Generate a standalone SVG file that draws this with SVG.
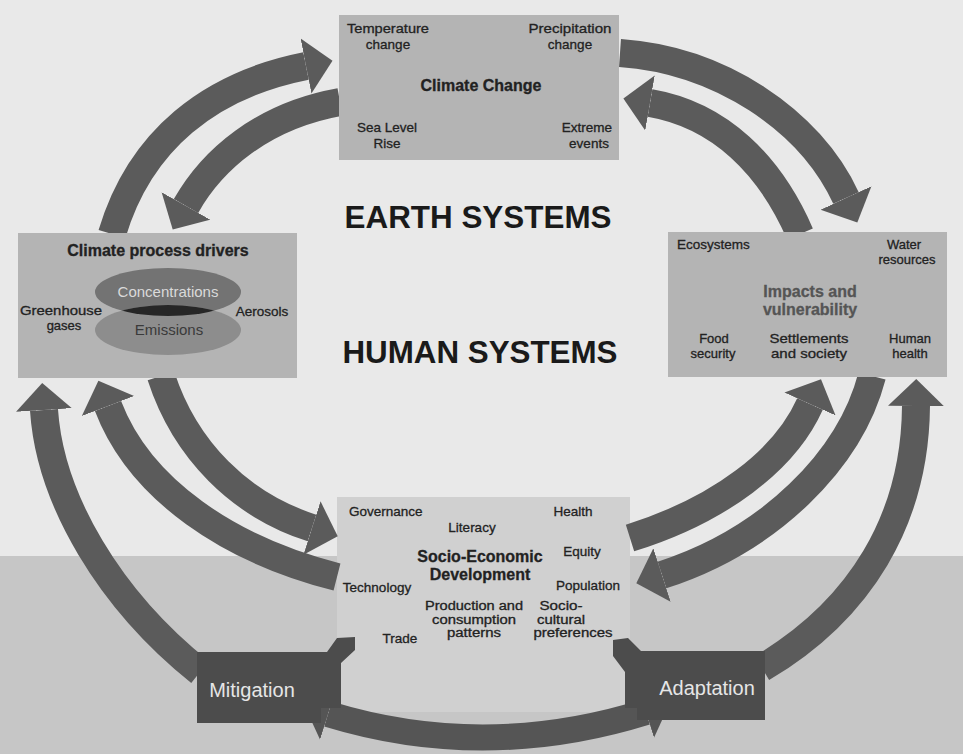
<svg xmlns="http://www.w3.org/2000/svg" width="963" height="754" viewBox="0 0 963 754">
<defs>
<style>
.box{fill:#b4b4b4}
.sbox{fill:#d0d0d0}
.dbox{fill:#4c4c4c}
.arr{fill:none;stroke:#5b5b5b;stroke-width:28}
.arrb{fill:none;stroke:#555;stroke-width:26}
.t{font-family:"Liberation Sans",Arial,sans-serif;font-size:13.5px;fill:#222;stroke:#222;stroke-width:0.3;text-anchor:middle}
.tl{text-anchor:start}
.s{font-size:12px}
.m{font-size:13px}
.b{font-weight:bold;font-size:16px}
.big{font-family:"Liberation Sans",Arial,sans-serif;font-weight:bold;font-size:31px;fill:#1a1a1a;text-anchor:middle}
.w{fill:#e6e6e6;stroke:none;font-size:20px}
</style>
<marker id="ah" markerUnits="userSpaceOnUse" markerWidth="40" markerHeight="60" refX="0" refY="28" orient="auto">
<path d="M0,0 L27,28 L0,56 Z" fill="#5b5b5b"/>
</marker>
<marker id="ahb" markerUnits="userSpaceOnUse" markerWidth="40" markerHeight="60" refX="0" refY="27" orient="auto-start-reverse">
<path d="M0,0 L24,27 L0,54 Z" fill="#555"/>
</marker>
<clipPath id="conc"><ellipse cx="168" cy="292" rx="73" ry="24"/></clipPath>
</defs>

<rect x="0" y="0" width="963" height="754" fill="#e9e9e9"/>
<rect x="0" y="556" width="963" height="198" fill="#c6c6c6"/>

<text class="big" x="478" y="228" textLength="267" lengthAdjust="spacingAndGlyphs">EARTH SYSTEMS</text>
<text class="big" x="480" y="363" textLength="275" lengthAdjust="spacingAndGlyphs">HUMAN SYSTEMS</text>

<g id="socio-economic">
<rect class="sbox" x="337" y="497" width="293" height="215"/>
<text class="t tl" x="349" y="516">Governance</text>
<text class="t" x="472" y="532">Literacy</text>
<text class="t" x="573" y="516">Health</text>
<text class="t b" x="480" y="562">Socio-Economic</text>
<text class="t b" x="480" y="580">Development</text>
<text class="t" x="582" y="556">Equity</text>
<text class="t" x="377" y="592">Technology</text>
<text class="t" x="588" y="590">Population</text>
<text class="t s" x="474" y="610" textLength="98" lengthAdjust="spacingAndGlyphs">Production and</text>
<text class="t s" x="474" y="623.5" textLength="84" lengthAdjust="spacingAndGlyphs">consumption</text>
<text class="t s" x="474" y="637" textLength="54" lengthAdjust="spacingAndGlyphs">patterns</text>
<text class="t s" x="561" y="610" textLength="43" lengthAdjust="spacingAndGlyphs">Socio-</text>
<text class="t s" x="561" y="623.5" textLength="48" lengthAdjust="spacingAndGlyphs">cultural</text>
<text class="t s" x="573" y="637" textLength="79" lengthAdjust="spacingAndGlyphs">preferences</text>
<text class="t" x="400" y="643">Trade</text>
</g>

<g id="connectors">
<path class="arr" marker-end="url(#ah)" d="M112,234 C140,140 210,85 306,66"/>
<path class="arr" marker-end="url(#ah)" d="M340,102 C262,116 212,160 186,206"/>
<path class="arr" marker-end="url(#ah)" d="M620,53 C720,60 810,120 846,198"/>
<path class="arr" marker-end="url(#ah)" d="M800,234 C770,165 720,115 650,103"/>
<path class="arr" marker-end="url(#ah)" d="M200,672 C110,600 50,500 44,410"/>
<path class="arr" marker-end="url(#ah)" d="M337,577 C230,550 140,490 108,406"/>
<path class="arr" marker-end="url(#ah)" d="M161,376 C185,450 240,505 312,528"/>
<path class="arr" marker-end="url(#ah)" d="M630,538 C720,510 785,460 810,404"/>
<path class="arr" marker-end="url(#ah)" d="M872,376 C850,460 770,540 662,575"/>
<path class="arr" marker-end="url(#ah)" d="M762,668 C860,610 915,520 916,406"/>
<path class="arrb" marker-start="url(#ahb)" marker-end="url(#ahb)" d="M328,714 Q485,762 646,712"/>
<polygon fill="#4c4c4c" points="318,652 327,652 337,638 355,637 355,650 341,663 341,708 318,708"/>
<polygon fill="#4c4c4c" points="613,640 628,638 641,651 641,708 625,708 625,672 613,656"/>
</g>

<g id="climate-change">
<rect class="box" x="339" y="15" width="280" height="145"/>
<text class="t" x="388" y="33" textLength="82" lengthAdjust="spacingAndGlyphs">Temperature</text>
<text class="t" x="388" y="49">change</text>
<text class="t" x="570" y="33" textLength="83" lengthAdjust="spacingAndGlyphs">Precipitation</text>
<text class="t" x="570" y="49">change</text>
<text class="t b" x="481" y="91">Climate Change</text>
<text class="t" x="387" y="132">Sea Level</text>
<text class="t" x="387" y="148">Rise</text>
<text class="t" x="587" y="132">Extreme</text>
<text class="t" x="589" y="148">events</text>
</g>

<g id="climate-drivers">
<rect class="box" x="18" y="233" width="279" height="145"/>
<text class="t b" x="158" y="256">Climate process drivers</text>
<ellipse cx="168" cy="292" rx="73" ry="24" fill="#737373"/>
<ellipse cx="168" cy="330" rx="73" ry="25" fill="#8d8d8d"/>
<ellipse cx="168" cy="330" rx="73" ry="25" fill="#262626" clip-path="url(#conc)"/>
<text class="t" x="168" y="297" style="fill:#dadada;stroke:none;font-size:15px">Concentrations</text>
<text class="t" x="169" y="335" style="fill:#3a3a3a;stroke:none;font-size:15px">Emissions</text>
<text class="t m" x="61" y="315" textLength="82" lengthAdjust="spacingAndGlyphs">Greenhouse</text>
<text class="t m" x="64" y="330">gases</text>
<text class="t" x="262" y="316">Aerosols</text>
</g>

<g id="impacts">
<rect class="box" x="668" y="232" width="279" height="145"/>
<text class="t tl" x="677" y="249">Ecosystems</text>
<text class="t m" x="904" y="249">Water</text>
<text class="t m" x="907" y="264">resources</text>
<text class="t b" x="810" y="297" style="fill:#555;stroke:#555">Impacts and</text>
<text class="t b" x="810" y="315" style="fill:#555;stroke:#555">vulnerability</text>
<text class="t m" x="714" y="343">Food</text>
<text class="t m" x="713" y="358">security</text>
<text class="t m" x="809" y="343" textLength="79" lengthAdjust="spacingAndGlyphs">Settlements</text>
<text class="t m" x="809" y="358" textLength="76" lengthAdjust="spacingAndGlyphs">and society</text>
<text class="t m" x="910" y="343">Human</text>
<text class="t m" x="910" y="358">health</text>
</g>

<g id="mitigation">
<rect class="dbox" x="197" y="652" width="124" height="71"/>
<text class="t w" x="252" y="697">Mitigation</text>
</g>

<g id="adaptation">
<rect class="dbox" x="637" y="651" width="128" height="69"/>
<text class="t w" x="707" y="695">Adaptation</text>
</g>
</svg>
